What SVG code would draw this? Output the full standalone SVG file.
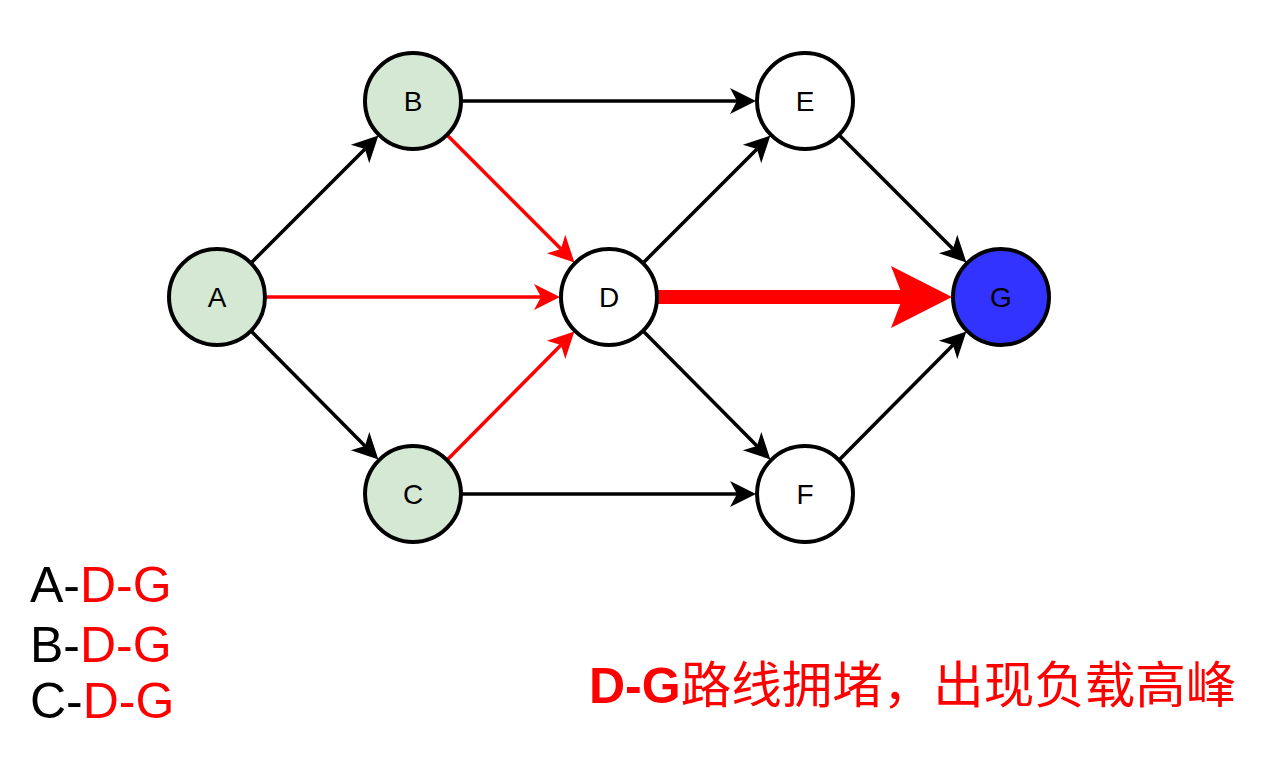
<svg xmlns="http://www.w3.org/2000/svg" width="1275" height="765" viewBox="0 0 1275 765">
<style>
.node{stroke:#000;stroke-width:4}
.green{fill:#D5E8D4}
.white{fill:#FFFFFF}
.blue{fill:#3333FF}
.lbl{font-family:"Liberation Sans",Arial,sans-serif;font-size:28px;fill:#000;text-anchor:middle}
.blk{stroke:#000;stroke-width:3.5;fill:none}
.red{stroke:#FF0000;stroke-width:3.5;fill:none}
.leg{font-family:"Liberation Sans",Arial,sans-serif;font-size:50px}
.note{font-family:"Liberation Sans","Noto Sans CJK SC",sans-serif;font-size:50px;fill:#FF0000}
</style>
<defs>
<marker id="ab" markerUnits="userSpaceOnUse" markerWidth="26" markerHeight="26" refX="7" refY="13" orient="auto" overflow="visible">
<path d="M0,0 L26,13 L0,26 L7,13 Z" fill="#000"/>
</marker>
<marker id="ar" markerUnits="userSpaceOnUse" markerWidth="26" markerHeight="26" refX="7" refY="13" orient="auto" overflow="visible">
<path d="M0,0 L26,13 L0,26 L7,13 Z" fill="#FF0000"/>
</marker>
</defs>
<rect width="1275" height="765" fill="#FFFFFF"/>
<g id="connectors">
<line class="blk" x1="251.6" y1="262.4" x2="365" y2="149" marker-end="url(#ab)"/>
<line class="blk" x1="251.6" y1="331.6" x2="365" y2="446" marker-end="url(#ab)"/>
<line class="red" x1="266" y1="297" x2="541" y2="297" marker-end="url(#ar)"/>
<line class="red" x1="447.6" y1="135.6" x2="561" y2="249" marker-end="url(#ar)"/>
<line class="red" x1="447.6" y1="459.4" x2="561" y2="345" marker-end="url(#ar)"/>
<line class="blk" x1="462" y1="101" x2="737" y2="101" marker-end="url(#ab)"/>
<line class="blk" x1="462" y1="494" x2="737" y2="494" marker-end="url(#ab)"/>
<line class="blk" x1="643.6" y1="262.4" x2="757" y2="149" marker-end="url(#ab)"/>
<line class="blk" x1="643.6" y1="331.6" x2="757" y2="446" marker-end="url(#ab)"/>
<line class="blk" x1="839.6" y1="135.6" x2="953" y2="249" marker-end="url(#ab)"/>
<line class="blk" x1="839.6" y1="459.4" x2="953" y2="345" marker-end="url(#ab)"/>
<g id="edge-DG">
<rect x="657" y="290" width="248" height="14" fill="#FF0000"/>
<polygon points="952,297 891,266 903,297 891,328" fill="#FF0000"/>
</g>
</g>
<g id="node-A"><circle class="node green" cx="217" cy="297" r="48"/><text class="lbl" x="217" y="307">A</text></g>
<g id="node-B"><circle class="node green" cx="413" cy="101" r="48"/><text class="lbl" x="413" y="111">B</text></g>
<g id="node-C"><circle class="node green" cx="413" cy="494" r="48"/><text class="lbl" x="413" y="504">C</text></g>
<g id="node-D"><circle class="node white" cx="609" cy="297" r="48"/><text class="lbl" x="609" y="307">D</text></g>
<g id="node-E"><circle class="node white" cx="805" cy="101" r="48"/><text class="lbl" x="805" y="111">E</text></g>
<g id="node-F"><circle class="node white" cx="805" cy="494" r="48"/><text class="lbl" x="805" y="504">F</text></g>
<g id="node-G"><circle class="node blue" cx="1001" cy="297" r="48"/><text class="lbl" x="1001" y="307">G</text></g>
<g id="legend">
<text class="leg" x="30" y="602"><tspan fill="#000">A-</tspan><tspan fill="#FF0000">D-G</tspan></text>
<text class="leg" x="30" y="662"><tspan fill="#000">B-</tspan><tspan fill="#FF0000">D-G</tspan></text>
<text class="leg" x="30" y="718"><tspan fill="#000">C-</tspan><tspan fill="#FF0000">D-G</tspan></text>
</g>
<g id="note">
<text class="note" x="589" y="703"><tspan font-weight="bold">D-G</tspan><tspan font-family="'Noto Sans CJK SC',sans-serif" font-size="50.5px">路线拥堵，出现负载高峰</tspan></text>
</g>
</svg>
